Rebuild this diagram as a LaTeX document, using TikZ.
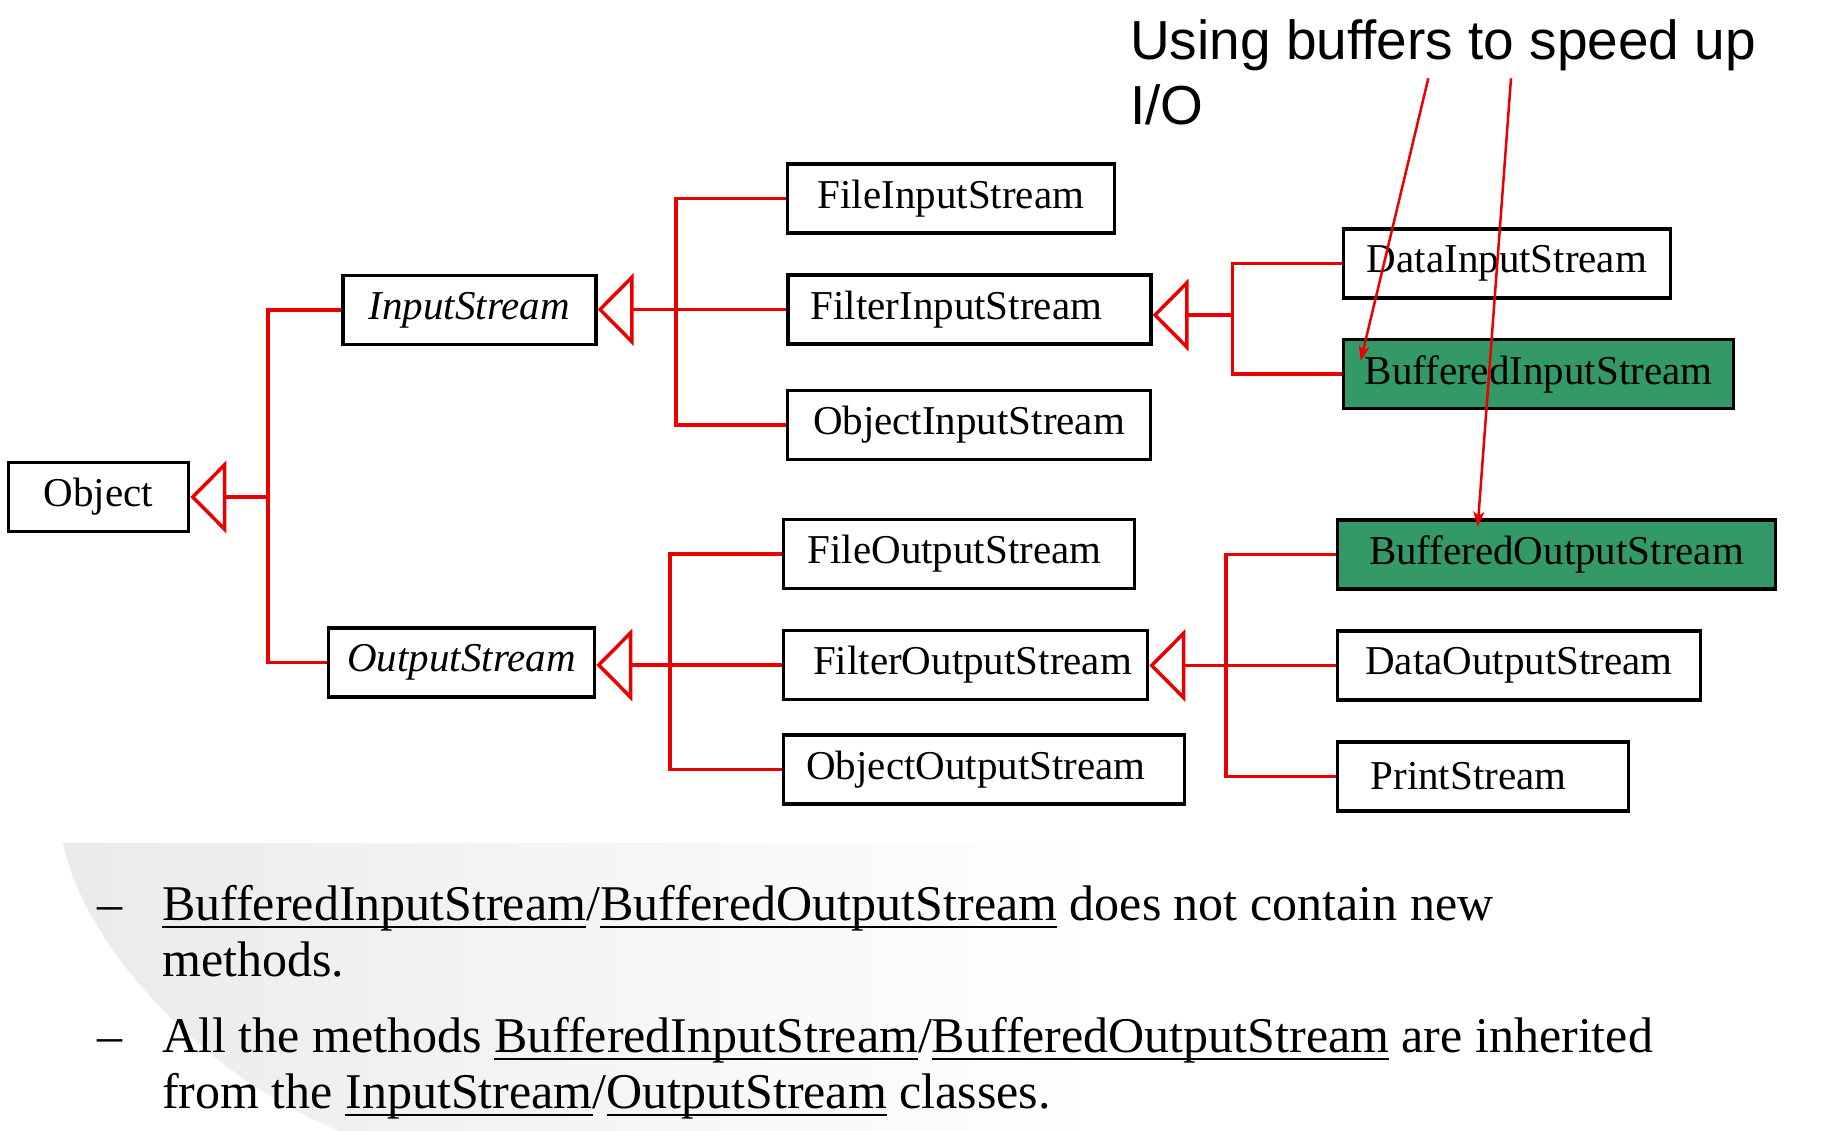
\documentclass[tikz,border=0pt]{standalone}
\usepackage{fontspec}
\setmainfont{Liberation Serif}
\newfontfamily\sansf{Liberation Sans}
\usetikzlibrary{arrows.meta}
\definecolor{inhred}{RGB}{235,0,0}
\definecolor{bufgreen}{RGB}{51,153,102}
\newcommand\myul[1]{\setbox0\hbox{#1}\rlap{\rule[-8pt]{\wd0}{2.5pt}}\box0\relax}
\begin{document}
\begin{tikzpicture}[x=1pt,y=-1pt,
  cls/.style={draw=black, line width=3.5pt, inner sep=0pt, minimum height=69pt,
    font=\fontsize{41}{49}\selectfont, anchor=center},
  buf/.style={cls, fill=bufgreen},
  conn/.style={draw=inhred, line width=3.5pt, line join=miter},
  inh/.style={conn, -{Triangle[open, length=36pt, width=72pt]}},
  note/.style={draw=inhred, line width=2.5pt, -{Stealth[length=15pt,width=11pt,inset=4pt]}},
  body/.style={anchor=base west, inner sep=0pt, font=\fontsize{50}{56}\selectfont},
  ttl/.style={anchor=base west, inner sep=0pt, font=\sansf\fontsize{55}{65}\selectfont}]
\useasboundingbox (0,0) rectangle (1829,1131);
\fill[white] (0,0) rectangle (1829,1131);
% background fade of the slide
\shade[left color=black!8, right color=white]
  (63,843) -- (1100,843) -- (1100,1131) -- (340,1131)
  .. controls (210,1080) and (85,950) .. (63,843) -- cycle;

% class boxes
\node[cls, minimum width=180pt] (Object) at (98.5,497) {Object};
\node[cls, minimum width=253pt] (InputStream) at (469.3,310) {\itshape InputStream};
\node[cls, minimum width=266pt] (OutputStream) at (461.5,662.5) {\itshape OutputStream};
\node[cls, minimum width=327pt] (FileInputStream) at (951,198.5) {FileInputStream};
\node[cls, minimum width=363pt] (FilterInputStream) at (969.3,309.5) {\hspace*{-26pt}FilterInputStream};
\node[cls, minimum width=363pt] (ObjectInputStream) at (969,425) {ObjectInputStream};
\node[cls, minimum width=327pt] (DataInputStream) at (1507,263.5) {DataInputStream};
\node[buf, minimum width=390pt] (BufferedInputStream) at (1538.5,374) {BufferedInputStream};
\node[cls, minimum width=351pt] (FileOutputStream) at (959,554) {\hspace*{-9pt}FileOutputStream};
\node[cls, minimum width=364pt] (FilterOutputStream) at (965.5,665) {\hspace*{14pt}FilterOutputStream};
\node[cls, minimum width=401pt] (ObjectOutputStream) at (984,769.5) {\hspace*{-16pt}ObjectOutputStream};
\node[buf, minimum width=438pt] (BufferedOutputStream) at (1556.5,554.5) {BufferedOutputStream};
\node[cls, minimum width=363pt] (DataOutputStream) at (1519,665.5) {DataOutputStream};
\node[cls, minimum width=291pt] (PrintStream) at (1483,776.5) {\hspace*{-29pt}PrintStream};

% bus points
\coordinate (busO) at (268,497);
\coordinate (busIn) at (676,310);
\coordinate (busOut) at (670,665);
\coordinate (busFI) at (1232.5,315);
\coordinate (busFO) at (1226,665);

% inheritance connectors
\draw[inh] (busO) -- (Object.east);
\draw[conn] (InputStream.west) -| (busO) |- (OutputStream.west);

\draw[inh] (FilterInputStream.west) -- (InputStream.east |- FilterInputStream.west);
\draw[conn] (FileInputStream.west) -| (busIn) |- (ObjectInputStream.west);

\draw[inh] (FilterOutputStream.west) -- (OutputStream.east |- FilterOutputStream.west);
\draw[conn] (FileOutputStream.west) -| (busOut) |- (ObjectOutputStream.west);

\draw[inh] (busFI) -- (FilterInputStream.east |- busFI);
\draw[conn] (DataInputStream.west) -| (busFI) |- (BufferedInputStream.west);

\draw[inh] (DataOutputStream.west) -- (FilterOutputStream.east |- DataOutputStream.west);
\draw[conn] (BufferedOutputStream.west) -| (busFO) |- (PrintStream.west);

% title and pointers
\node[ttl] (title1) at (1130,60) {Using buffers to speed up};
\node[ttl] (title2) at (1130,125) {I/O};
\coordinate (n1s) at (1428.3,78.3);
\coordinate (n1e) at (1360.7,360.7);
\coordinate (n2s) at (1511,78.3);
\coordinate (n2e) at (1477.7,526.7);
\draw[note] (n1s) -- (n1e);
\draw[note] (n2s) -- (n2e);

% bullet text
\node[body] (dash1) at (97.6,920) {–};
\node[body] (b1a) at (162,920) {\myul{BufferedInputStream}/\myul{BufferedOutputStream} does not contain new};
\node[body] (b1b) at (162,976) {methods.};
\node[body] (dash2) at (97.6,1052) {–};
\node[body] (b2a) at (162,1052) {All the methods \myul{BufferedInputStream}/\myul{BufferedOutputStream} are inherited};
\node[body] (b2b) at (162,1108) {from the \myul{InputStream}/\myul{OutputStream} classes.};
\end{tikzpicture}
\end{document}
